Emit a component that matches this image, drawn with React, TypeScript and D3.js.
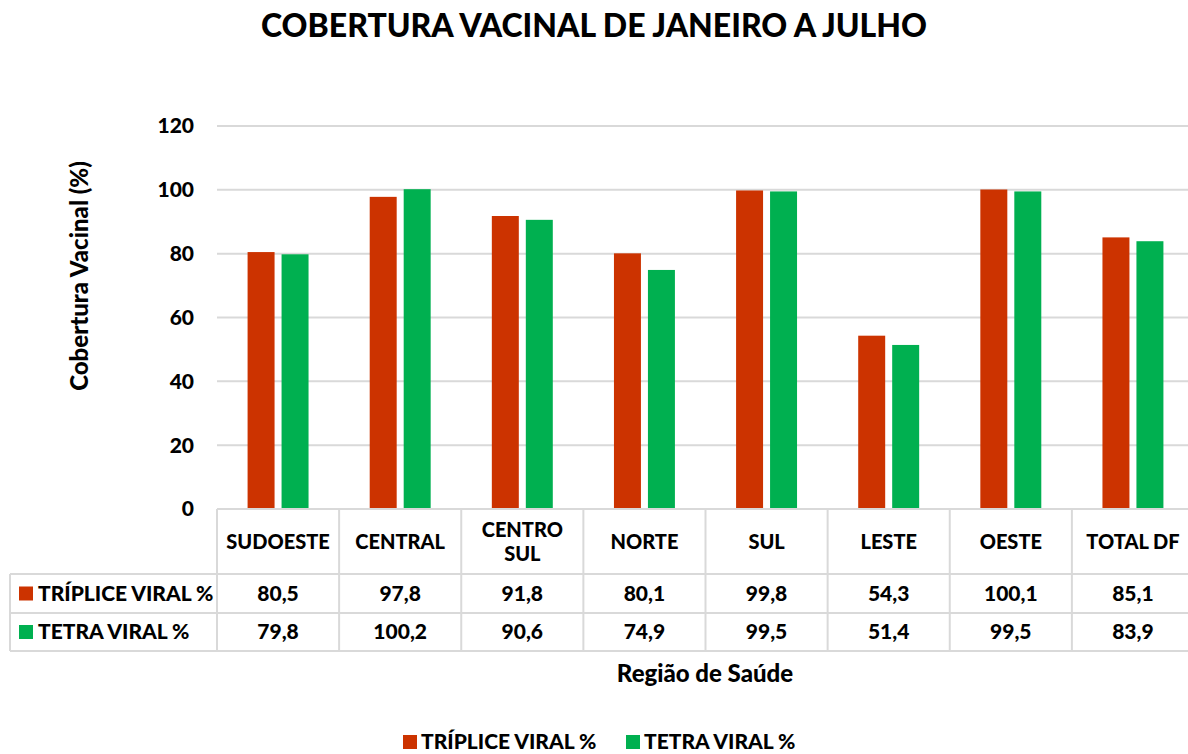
import React, { useEffect, useRef } from "react";
import * as d3 from "d3";

const regions = ["SUDOESTE", "CENTRAL", "CENTRO SUL", "NORTE", "SUL", "LESTE", "OESTE", "TOTAL DF"];
const seriesNames = ["TRÍPLICE VIRAL %", "TETRA VIRAL %"];
const triplice = [80.5, 97.8, 91.8, 80.1, 99.8, 54.3, 100.1, 85.1];
const tetra = [79.8, 100.2, 90.6, 74.9, 99.5, 51.4, 99.5, 83.9];
const yTicks = [0, 20, 40, 60, 80, 100, 120];
const colors = ["#CC3300", "#00B050"];

const W = 1188, H = 754;
const FONT = "Lato, 'Open Sans', sans-serif";

export default function App() {
  const ref = useRef<SVGSVGElement>(null);

  useEffect(() => {
    const svg = d3.select(ref.current);
    svg.selectAll("*").remove();
    svg.style("font-family", FONT).style("font-weight", 900);

    const left = 217, right = 1194, top = 126, bottom = 509;
    const x = d3.scaleBand().domain(regions).range([left, right]);
    const y = d3.scaleLinear().domain([0, 120]).range([bottom, top]);
    const x1 = d3.scaleBand().domain(seriesNames).range([0, x.bandwidth()]).paddingInner(0.206).paddingOuter(0.9);

    // title
    svg.append("text").attr("x", 594).attr("y", 37).attr("text-anchor", "middle")
      .attr("font-size", 32).attr("fill", "#000").text("COBERTURA VACINAL DE JANEIRO A JULHO");

    // grid
    svg.append("g").selectAll("line").data(yTicks.filter(d => d > 0)).join("line")
      .attr("x1", left).attr("x2", right).attr("y1", d => y(d)).attr("y2", d => y(d))
      .attr("stroke", "#d9d9d9").attr("stroke-width", 2);

    svg.append("g").selectAll("text").data(yTicks).join("text")
      .attr("x", 194).attr("y", d => y(d)).attr("dy", "0.35em").attr("text-anchor", "end")
      .attr("font-size", 21).text(d => d);

    // bars
    const series = [triplice, tetra];
    series.forEach((vals, si) => {
      svg.append("g").selectAll("rect").data(vals).join("rect")
        .attr("x", (d, i) => (x(regions[i]) as number) + (x1(seriesNames[si]) as number))
        .attr("width", x1.bandwidth())
        .attr("y", d => y(d)).attr("height", d => y(0) - y(d))
        .attr("fill", colors[si]);
    });

    // y axis title
    svg.append("text").attr("transform", "translate(88,276) rotate(-90)").attr("text-anchor", "middle")
      .attr("font-size", 24).text("Cobertura Vacinal (%)");

    // data table
    const row1 = 574, row2 = 613, row3 = 651, tableLeft = 10;
    const g = svg.append("g").attr("stroke", "#d9d9d9").attr("stroke-width", 2);
    g.append("line").attr("x1", left).attr("x2", right).attr("y1", bottom).attr("y2", bottom);
    [row1, row2, row3].forEach(yy =>
      g.append("line").attr("x1", tableLeft).attr("x2", right).attr("y1", yy).attr("y2", yy));
    g.append("line").attr("x1", tableLeft).attr("x2", tableLeft).attr("y1", row1).attr("y2", row3);
    regions.forEach(r =>
      g.append("line").attr("x1", x(r) as number).attr("x2", x(r) as number).attr("y1", bottom).attr("y2", row3));

    regions.forEach(r => {
      const cx = (x(r) as number) + x.bandwidth() / 2;
      const parts = r === "CENTRO SUL" ? ["CENTRO", "SUL"] : [r];
      const t = svg.append("text").attr("x", cx).attr("text-anchor", "middle").attr("font-size", 20);
      parts.forEach((p, i) =>
        t.append("tspan").attr("x", cx)
          .attr("y", (bottom + row1) / 2 + 7 + (i - (parts.length - 1) / 2) * 24).text(p));
    });

    const rowMid = [(row1 + row2) / 2, (row2 + row3) / 2];
    series.forEach((vals, si) => {
      svg.append("rect").attr("x", 19).attr("y", rowMid[si] - 7).attr("width", 14).attr("height", 14).attr("fill", colors[si]);
      svg.append("text").attr("x", 38).attr("y", rowMid[si]).attr("dy", "0.35em").attr("font-size", 21).text(seriesNames[si]);
      svg.append("g").selectAll("text").data(vals).join("text")
        .attr("x", (d, i) => (x(regions[i]) as number) + x.bandwidth() / 2)
        .attr("y", rowMid[si]).attr("dy", "0.35em").attr("text-anchor", "middle")
        .attr("font-size", 21).text(d => d.toFixed(1).replace(".", ","));
    });

    // x axis title
    svg.append("text").attr("x", 705).attr("y", 682).attr("text-anchor", "middle")
      .attr("font-size", 24).text("Região de Saúde");

    // legend
    const legendX = [403, 626];
    seriesNames.forEach((s, i) => {
      svg.append("rect").attr("x", legendX[i]).attr("y", 735).attr("width", 14).attr("height", 14).attr("fill", colors[i]);
      svg.append("text").attr("x", legendX[i] + 18).attr("y", 749).attr("font-size", 21).text(s);
    });
  }, []);

  return (
    <svg ref={ref} width={W} height={H} viewBox={`0 0 ${W} ${H}`}
      style={{ position: "absolute", left: 0, top: 0, background: "#fff" }} />
  );
}
